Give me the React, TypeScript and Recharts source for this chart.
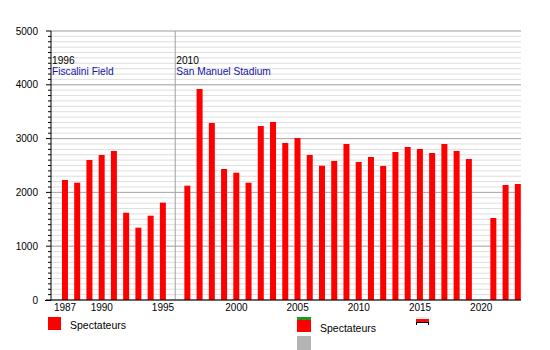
import React from 'react';
import { BarChart, Bar, XAxis, YAxis, CartesianGrid, ReferenceLine } from 'recharts';

// seasons in slot order; the empty slot is the stadium separator
const seasons = [
  '1987', '1988', '1989', '1990', '1991', '1992', '1993', '1994', '1995',
  '',
  '1996', '1997', '1998', '1999', '2000', '2001', '2002', '2003', '2004', '2005',
  '2006', '2007', '2008', '2009', '2010', '2011', '2012', '2013', '2014', '2015',
  '2016', '2017', '2018', '2019', '2020', '2021', '2022', '2023',
];

const spectateurs: (number | null)[] = [
  2230, 2180, 2600, 2695, 2770, 1623, 1344, 1567, 1809,
  null,
  2125, 3922, 3290, 2435, 2366, 2180, 3234, 3309, 2918, 3011,
  2695, 2496, 2584, 2900, 2565, 2658, 2490, 2751, 2844, 2807,
  2732, 2900, 2770, 2621, null, 1524, 2138, 2156,
];

const tickSeasons = ['1987', '1990', '1995', '2000', '2005', '2010', '2015', '2020'];

const minorTicks = Array.from({ length: 51 }, (_, i) => i * 100);
const majorTicks = [0, 1000, 2000, 3000, 4000, 5000];

const data = seasons.map((s, i) => ({ idx: i, season: s, value: spectateurs[i] }));
const xTicks = tickSeasons.map(s => seasons.indexOf(s));

const FONT = '"Liberation Sans", Arial, sans-serif';

const YTick = (props: any) => {
  const { x, y, payload } = props;
  const major = payload.value % 1000 === 0;
  return (
    <g>
      <line x1={x - (major ? 5 : 3)} x2={x} y1={y} y2={y} stroke="#000" />
      {major && (
        <text x={x - 13} y={y} dy="0.355em" textAnchor="end" fontSize={10} fontFamily={FONT} fill="#000">
          {payload.value}
        </text>
      )}
    </g>
  );
};

const StadiumLabel = (year: string, name: string) => (props: any) => {
  const { viewBox } = props;
  return (
    <g fontFamily={FONT} fontSize={10.2}>
      <text x={viewBox.x + 1} y={63.5} fill="#000">{year}</text>
      <text x={viewBox.x + 1} y={75} fill="#1414a6">{name}</text>
    </g>
  );
};

export default function App() {
  return (
    <div style={{ position: 'absolute', left: 0, top: 0, width: 550, height: 350, background: '#fff' }}>
      <BarChart width={550} height={350} data={data} margin={{ top: 31, right: 29, bottom: 30, left: 0 }}>
        <CartesianGrid vertical={false} horizontalValues={minorTicks} stroke="#dedede" />
        <CartesianGrid vertical={false} horizontalValues={majorTicks} stroke="#ababab" />
        <XAxis
          type="number"
          dataKey="idx"
          domain={[-1.15, 37.25]}
          ticks={xTicks}
          tickFormatter={(i: number) => seasons[i]}
          tickLine={false}
          tickSize={0}
          tickMargin={4}
          height={20}
          axisLine={{ stroke: '#000' }}
          tick={{ fontSize: 10, fontFamily: FONT, fill: '#000' }}
          allowDataOverflow
        />
        <YAxis
          type="number"
          domain={[0, 5000]}
          ticks={minorTicks}
          interval={0}
          width={51}
          tickLine={false}
          tickSize={0}
          tickMargin={0}
          axisLine={{ stroke: '#000' }}
          tick={<YTick />}
        />
        <ReferenceLine x={-1.15} stroke="none" label={StadiumLabel('1996', 'Fiscalini Field')} />
        <ReferenceLine x={9} stroke="#a0a0a0" label={StadiumLabel('2010', 'San Manuel Stadium')} />
        <Bar dataKey="value" fill="#ff0000" barSize={6} isAnimationActive={false} />
      </BarChart>
      <div style={{ position: 'absolute', left: 45, top: 300, width: 6, height: 1, background: '#000' }} />
      <div style={{ position: 'absolute', left: 48, top: 317, width: 13, height: 13, background: '#ff0000' }} />
      <div style={{ position: 'absolute', left: 70, top: 319, fontSize: 10.5, fontFamily: FONT, color: '#000' }}>Spectateurs</div>
      <div style={{ position: 'absolute', left: 297, top: 317, width: 14, height: 3, background: '#1f9a1f' }} />
      <div style={{ position: 'absolute', left: 297, top: 320, width: 14, height: 12, background: '#ff0000' }} />
      <div style={{ position: 'absolute', left: 297, top: 336, width: 14, height: 14, background: '#b4b4b4' }} />
      <div style={{ position: 'absolute', left: 320, top: 322, fontSize: 10.5, fontFamily: FONT, color: '#000' }}>Spectateurs</div>
      <div style={{ position: 'absolute', left: 416, top: 317, width: 13, height: 2, background: '#eee' }} />
      <div style={{ position: 'absolute', left: 416, top: 319, width: 13, height: 3, background: '#ee1111' }} />
      <div style={{ position: 'absolute', left: 416, top: 322, width: 11, height: 2, borderLeft: '1px solid #000', borderRight: '1px solid #000', borderTop: '1px solid #000' }} />
    </div>
  );
}
